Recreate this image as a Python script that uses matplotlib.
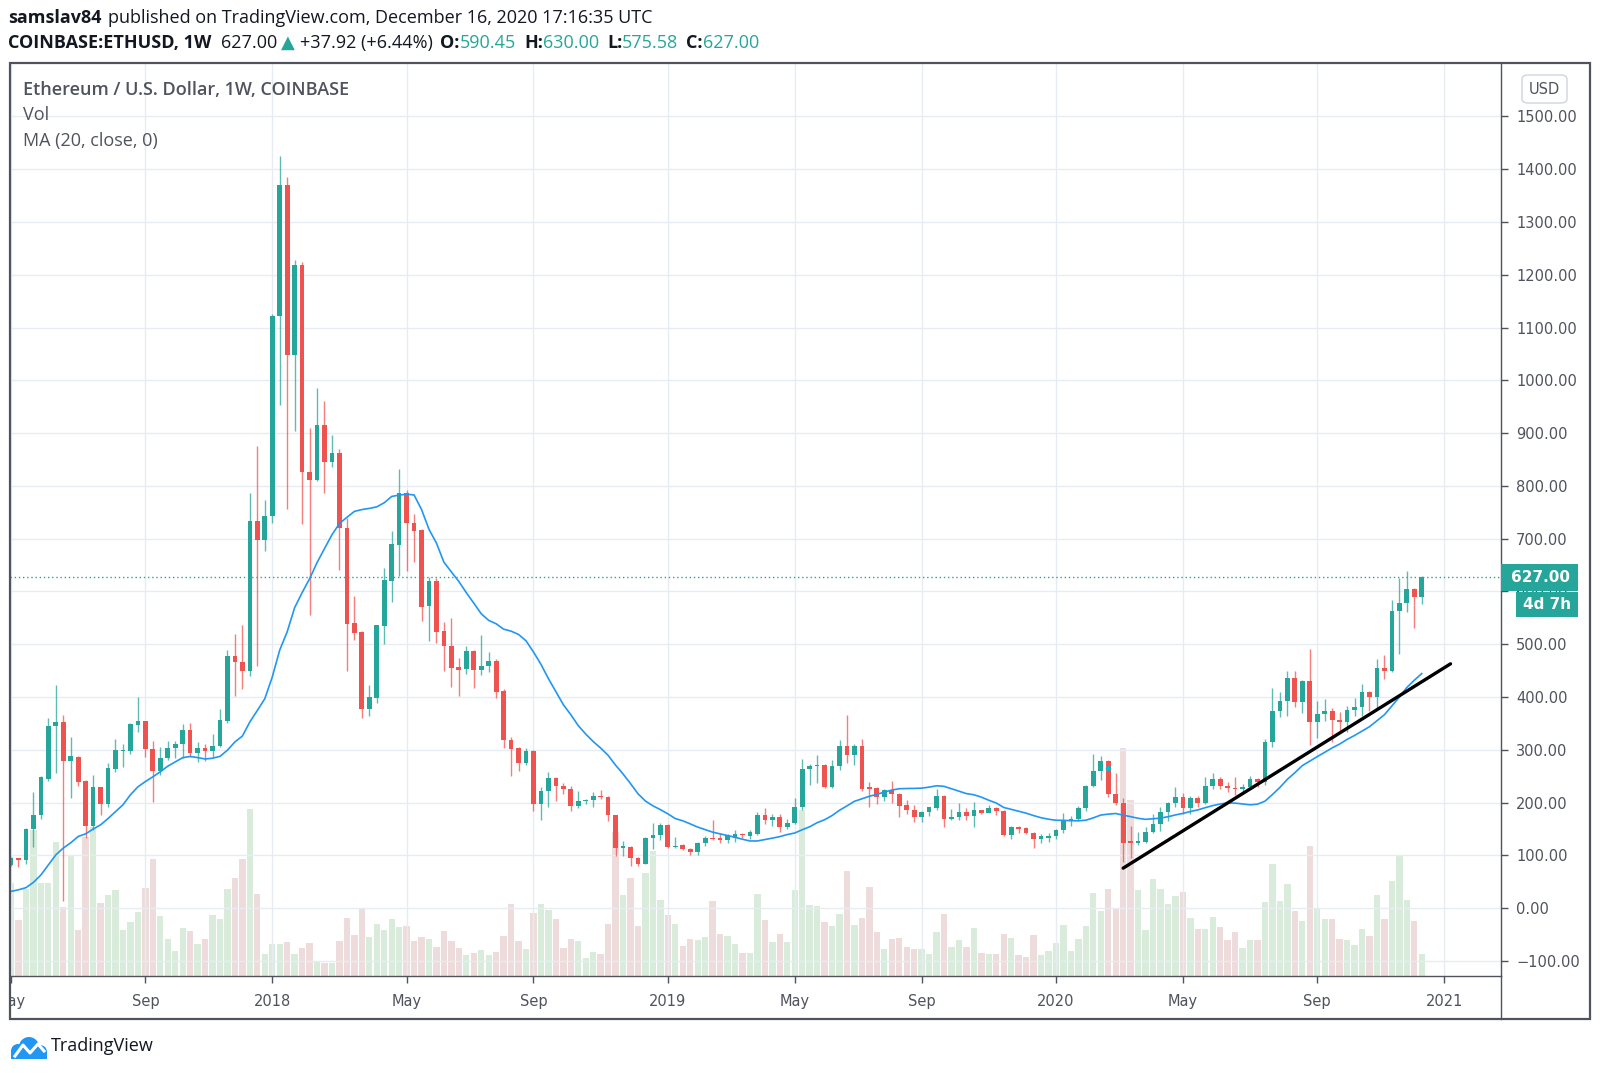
import numpy as np
import pandas as pd
import matplotlib
matplotlib.use('Agg')
import matplotlib.pyplot as plt
import matplotlib.dates as mdates
from matplotlib.patches import Rectangle, FancyBboxPatch, Circle
from matplotlib.lines import Line2D
from matplotlib.transforms import Bbox, TransformedBbox

# Weekly ETHUSD candles (Coinbase), first bar week of 2017-05-01
start = '2017-05-01'
opens = [
    82, 95, 91, 150, 176, 244, 345, 352, 279, 287,
    241, 155, 229, 198, 264, 297, 297, 348, 355, 302,
    260, 284, 303, 311, 338, 295, 304, 298, 307, 354,
    477, 467, 449, 734, 698, 743, 1121, 1370, 1048, 1218,
    827, 812, 915, 845, 862, 721, 540, 524, 378, 399,
    535, 620, 688, 787, 730, 716, 573, 619, 525, 497,
    457, 453, 488, 451, 459, 469, 411, 319, 303, 276,
    297, 197, 222, 246, 232, 225, 193, 203, 205, 213,
    210, 176, 115, 117, 95, 84, 133, 139, 158, 116,
    119, 112, 106, 124, 134, 133, 130, 134, 140, 136,
    141, 177, 168, 172, 153, 162, 191, 263, 270, 271,
    230, 270, 307, 290, 307, 229, 228, 211, 224, 217,
    195, 186, 172, 182, 190, 213, 170, 172, 182, 175,
    186, 180, 189, 185, 139, 153, 152, 142, 132, 134,
    136, 148, 167, 170, 189, 232, 260, 278, 217, 200,
    127, 124, 125, 145, 160, 182, 199, 211, 189, 208,
    199, 232, 245, 232, 228, 225, 230, 245, 240, 314,
    374, 393, 436, 391, 431, 353, 368, 374, 357, 353,
    376, 381, 409, 400, 456, 450, 563, 579, 604, 590.45]
highs = [
    97, 96, 152, 221, 251, 360, 423, 367, 325, 288,
    243, 252, 230, 275, 321, 311, 350, 401, 355, 317,
    306, 316, 317, 349, 350, 314, 311, 330, 378, 490,
    520, 537, 787, 876, 773, 1125, 1424, 1385, 1227, 1225,
    910, 985, 960, 896, 869, 740, 592, 525, 422, 537,
    645, 714, 832, 792, 747, 718, 627, 626, 543, 549,
    474, 497, 489, 518, 485, 472, 415, 325, 306, 304,
    299, 229, 258, 248, 237, 232, 222, 207, 220, 224,
    213, 176, 128, 118, 97, 135, 162, 162, 159, 135,
    121, 115, 126, 137, 167, 142, 141, 148, 143, 148,
    183, 189, 178, 178, 170, 208, 283, 273, 290, 273,
    281, 319, 366, 312, 321, 239, 230, 226, 241, 219,
    205, 196, 184, 192, 225, 214, 188, 199, 189, 201,
    187, 196, 192, 187, 156, 156, 154, 144, 140, 142,
    150, 180, 174, 193, 234, 292, 289, 281, 256, 209,
    156, 145, 153, 178, 192, 202, 229, 218, 212, 212,
    249, 256, 248, 240, 249, 235, 251, 247, 320, 417,
    409, 450, 450, 432, 492, 393, 396, 379, 371, 383,
    398, 424, 412, 472, 480, 584, 626, 639, 606, 630]
lows = [
    80, 78, 83, 117, 169, 242, 256, 13, 208, 232,
    133, 148, 177, 191, 259, 268, 292, 333, 286, 202,
    252, 281, 285, 285, 287, 277, 279, 287, 306, 350,
    402, 415, 440, 459, 676, 729, 954, 757, 904, 728,
    555, 810, 787, 836, 641, 450, 508, 361, 364, 389,
    500, 580, 629, 638, 655, 545, 507, 503, 450, 420,
    403, 443, 418, 442, 447, 398, 304, 251, 260, 272,
    185, 168, 192, 204, 216, 185, 189, 197, 191, 207,
    166, 99, 99, 81, 81, 83, 112, 129, 114, 115,
    110, 101, 101, 118, 129, 124, 123, 126, 134, 131,
    138, 159, 156, 145, 150, 159, 186, 234, 237, 227,
    228, 262, 276, 271, 222, 191, 198, 203, 199, 172,
    179, 164, 164, 174, 186, 153, 167, 168, 168, 153,
    178, 180, 177, 137, 132, 143, 140, 115, 123, 125,
    132, 142, 155, 166, 184, 229, 243, 210, 196, 88,
    95, 120, 123, 143, 147, 166, 191, 179, 179, 191,
    197, 226, 225, 220, 215, 221, 227, 230, 234, 306,
    363, 365, 381, 370, 310, 323, 355, 314, 333, 333,
    364, 365, 374, 380, 435, 447, 481, 562, 531, 575.58]
closes = [
    95, 91, 151, 177, 249, 346, 352, 279, 288, 240,
    155, 229, 198, 265, 299, 300, 349, 355, 302, 260,
    285, 304, 312, 338, 295, 304, 298, 308, 357, 477,
    467, 450, 734, 698, 743, 1122, 1370, 1048, 1218, 826,
    812, 915, 845, 862, 721, 538, 522, 378, 401, 536,
    622, 689, 787, 730, 715, 571, 619, 524, 497, 456,
    452, 488, 451, 459, 469, 410, 319, 302, 276, 297,
    197, 222, 246, 232, 225, 193, 203, 205, 213, 210,
    176, 115, 118, 95, 84, 133, 139, 158, 116, 118,
    112, 106, 124, 134, 131, 130, 138, 140, 138, 144,
    177, 168, 172, 153, 162, 191, 263, 270, 271, 230,
    270, 307, 290, 307, 225, 226, 211, 224, 217, 194,
    186, 172, 182, 191, 213, 170, 172, 182, 175, 186,
    180, 189, 185, 139, 153, 151, 142, 132, 136, 137,
    148, 167, 170, 189, 232, 260, 278, 217, 199, 123,
    124, 127, 145, 160, 182, 199, 211, 189, 208, 199,
    232, 245, 232, 228, 225, 230, 245, 240, 314, 374,
    393, 436, 391, 431, 353, 368, 374, 357, 353, 376,
    381, 409, 400, 456, 450, 563, 579, 604, 589.08, 627]
# volume, relative units (scale not shown on the chart)
volumes = [
    93, 56, 87, 146, 93, 93, 134, 69, 121, 46,
    139, 149, 73, 81, 86, 46, 54, 64, 88, 117,
    60, 37, 25, 48, 45, 32, 37, 61, 57, 87,
    98, 117, 167, 82, 22, 32, 32, 34, 22, 28,
    33, 15, 13, 13, 35, 58, 41, 68, 39, 52,
    46, 57, 49, 50, 35, 39, 37, 29, 45, 35,
    28, 21, 23, 26, 21, 24, 40, 72, 35, 27,
    63, 72, 66, 57, 28, 37, 35, 18, 24, 22,
    52, 144, 81, 98, 50, 103, 125, 76, 61, 52,
    30, 37, 36, 39, 75, 42, 40, 32, 23, 23,
    82, 56, 34, 42, 34, 86, 166, 71, 70, 54,
    50, 62, 105, 51, 58, 89, 44, 27, 37, 38,
    29, 27, 27, 22, 44, 62, 29, 36, 29, 48,
    23, 22, 22, 42, 38, 21, 19, 41, 21, 25,
    33, 51, 25, 37, 50, 83, 65, 87, 67, 228,
    176, 86, 46, 97, 87, 72, 80, 84, 58, 47,
    47, 59, 49, 36, 44, 28, 36, 36, 74, 112,
    75, 92, 65, 55, 130, 67, 57, 57, 37, 36,
    31, 47, 40, 81, 57, 95, 121, 76, 55, 22]
# MA(20) values before a full 20-week window is visible
ma_head = [32, 35, 39, 49, 63, 82, 101, 114, 124, 136,
           141, 150, 158, 170, 183, 196, 215, 230, 240]

tick_months = ['2017-05', '2017-09', '2018-01', '2018-05', '2018-09', '2019-01',
               '2019-05', '2019-09', '2020-01', '2020-05', '2020-09', '2021-01']
tick_labels = ['May', 'Sep', '2018', 'May', 'Sep', '2019',
               'May', 'Sep', '2020', 'May', 'Sep', '2021']

# user-drawn trend line
trend_dates = ['2020-03-09', '2021-01-10']
trend_prices = [76, 463]
event_date, event_price = '2020-02-24', 265

green = '#26a69a'
red = '#ef5350'
vol_green = '#d9ecdc'
vol_red = '#eedcdc'
grid_c = '#e6ecf1'
frame_c = '#50535e'
text_c = '#131722'
label_c = '#50535e'

W, H = 1600, 1073
def fx(px): return px / W
def fy(py): return 1 - py / H

L, R, T, B = 10, 1500.7, 63.3, 975.7
rect = [fx(L), fy(B), (R - L) / W, (B - T) / H]

o = np.array(opens, float)
h = np.array(highs, float)
l = np.array(lows, float)
c = np.array(closes, float)
v = np.array(volumes, float)
dates = pd.date_range(start, periods=len(c), freq='7D')
x = mdates.date2num(dates)
up = c >= o
cols = np.where(up, green, red)
vcols = np.where(up, vol_green, vol_red)

ma = pd.Series(c).rolling(20).mean().to_numpy()
ma[:len(ma_head)] = ma_head

fig = plt.figure(figsize=(W / 100, H / 100), dpi=100)
fig.patch.set_facecolor('white')

# volume pane underneath
axv = fig.add_axes(rect, label='vol')
axv.bar(x, v, width=7 * 0.85, color=vcols, linewidth=0)
axv.set_ylim(0, B - T)
axv.axis('off')

ax = fig.add_axes(rect, label='price', sharex=axv)
ax.patch.set_visible(False)
ax.set_xlim(x[0] - 0.134 * 7, x[0] + 199.58 * 7)
ax.set_ylim(-127.7, 1600.4)

ax.vlines(x, l, h, colors=cols, lw=1.0, alpha=0.75, zorder=3)
ax.bar(x, np.maximum(np.abs(c - o), 1.8), bottom=np.minimum(o, c),
       width=7 * 0.63, color=cols, linewidth=0, zorder=4)
ax.plot(x, ma, color='#2196f3', lw=1.2, zorder=5)
ax.plot(mdates.date2num(pd.to_datetime(trend_dates)), trend_prices,
        color='black', lw=2.4, solid_capstyle='round', zorder=6)
ax.plot(mdates.date2num(pd.Timestamp(event_date)), event_price, 'o',
        color='#00bcd4', ms=3, zorder=6)
ax.axhline(c[-1], color=green, lw=1.0, ls=(0, (1, 2)), zorder=2)

# axes, ticks, grid
yt = np.arange(-100, 1501, 100)
ax.set_yticks(yt, [f'{t:.2f}'.replace('-', '\u2212') for t in yt])
ax.yaxis.tick_right()
tick_pos = []
for m in tick_months:
    ts = pd.Timestamp(m)
    ts = ts + pd.Timedelta(days=(7 - ts.weekday()) % 7)
    tick_pos.append(mdates.date2num(ts))
ax.set_xticks(tick_pos, tick_labels)
ax.tick_params(axis='y', length=5, width=1, color=frame_c, pad=6,
               labelsize=10.5, labelcolor=label_c)
ax.tick_params(axis='x', length=5, width=1, color=frame_c, pad=8,
               labelsize=10.5, labelcolor=label_c)
ax.grid(True, color=grid_c, lw=1.0, zorder=0)
ax.set_axisbelow(True)
for s in ['top', 'left']:
    ax.spines[s].set_visible(False)
for s in ['bottom', 'right']:
    ax.spines[s].set_color(frame_c)
    ax.spines[s].set_linewidth(1.0)
clip = TransformedBbox(Bbox([[fx(L), 0], [fx(R), 1]]), fig.transFigure)
for lbl in ax.get_xticklabels():
    lbl.set_clip_box(clip)
    lbl.set_clip_on(True)

# outer frame and separators
fig.add_artist(Rectangle((fx(L), fy(1019)), (1590 - L) / W, (1019 - T) / H,
                         transform=fig.transFigure, fill=False, ec=frame_c, lw=1.6))
fig.add_artist(Line2D([fx(R), fx(R)], [fy(B), fy(1019)], transform=fig.transFigure,
                      color=frame_c, lw=1.0))

# last price labels
fig.canvas.draw()
r = fig.canvas.get_renderer()
py = H - ax.transData.transform((0, c[-1]))[1]
fig.add_artist(Rectangle((fx(R), fy(py + 13.3)), 77 / W, 26.6 / H,
                         transform=fig.transFigure, color=green, lw=0, zorder=5))
fig.text(fx(1540), fy(py), f'{c[-1]:.2f}', color='white', fontsize=11,
         fontweight='bold', ha='center', va='center', zorder=6)
fig.add_artist(Rectangle((fx(1516), fy(py + 40)), 62 / W, 25.7 / H,
                         transform=fig.transFigure, color=green, lw=0, zorder=5))
fig.text(fx(1547), fy(py + 27), '4d 7h', color='white', fontsize=11,
         fontweight='bold', ha='center', va='center', zorder=6)

fig.add_artist(FancyBboxPatch((fx(1522), fy(103)), 45 / W, 28 / H,
                              boxstyle='round,pad=0,rounding_size=0.004',
                              transform=fig.transFigure, fc='white', ec='#d1d4dc', lw=1))
fig.text(fx(1544.5), fy(89), 'USD', color=label_c, fontsize=10.5,
         ha='center', va='center')

# pane legend
fig.text(fx(23), fy(90), 'Ethereum / U.S. Dollar, 1W, COINBASE', family='Open Sans',
         fontweight='semibold', fontsize=13, color=label_c, va='center')
fig.text(fx(23), fy(115), 'Vol', family='Open Sans', fontsize=13,
         color=label_c, va='center')
fig.text(fx(23), fy(141), 'MA (20, close, 0)', family='Open Sans', fontsize=13,
         color=label_c, va='center')


def chain(parts, px, py, size):
    # parts: (text, colour, weight, gap in pixels before the piece)
    for s, col, wt, gap in parts:
        px += gap
        t = fig.text(fx(px), fy(py), s, color=col, fontweight=wt, fontsize=size,
                     family=['Open Sans', 'DejaVu Sans'], ha='left', va='center')
        px += t.get_window_extent(renderer=r).width


chain([('samslav84', text_c, 'bold', 0),
       ('published on TradingView.com, December 16, 2020 17:16:35 UTC', text_c, 'normal', 7)],
      8, 18, 13)
chain([('COINBASE:ETHUSD, 1W', text_c, 'bold', 0), ('627.00', text_c, 'normal', 10),
       ('\u25b2', green, 'normal', 3), ('+37.92 (+6.44%)', text_c, 'normal', 5),
       ('O:', text_c, 'bold', 8), ('590.45', green, 'normal', 0),
       ('H:', text_c, 'bold', 8), ('630.00', green, 'normal', 0),
       ('L:', text_c, 'bold', 8), ('575.58', green, 'normal', 0),
       ('C:', text_c, 'bold', 8), ('627.00', green, 'normal', 0)],
      8, 43, 13)

# TradingView logo
axl = fig.add_axes([fx(8), fy(1061), 40 / W, 28 / H])
axl.set_xlim(0, 40)
axl.set_ylim(0, 28)
axl.axis('off')
for cx, cy, rr in [(10, 10, 7), (21, 14, 10), (32, 9, 7)]:
    axl.add_patch(Circle((cx, cy), rr, color='#2196f3', lw=0))
axl.add_patch(Rectangle((3, 2), 36, 8, color='#2196f3', lw=0))
axl.plot([7, 15, 22, 30, 36], [5, 16, 8, 17, 10], color='white', lw=2.2)
fig.text(fx(51), fy(1046), 'TradingView', family='Open Sans', fontsize=13,
         color=text_c, va='center')

fig.savefig('out.png', dpi=100)
